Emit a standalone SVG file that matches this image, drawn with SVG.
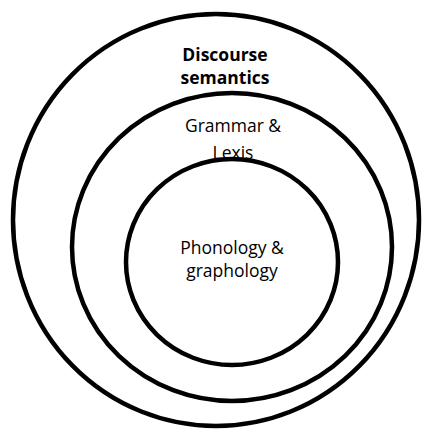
<svg xmlns="http://www.w3.org/2000/svg" width="431" height="434" viewBox="0 0 431 434">
<style>
.ring{fill:none;stroke:#000;stroke-width:4.5}
.t{font-family:"Open Sans","Noto Sans",sans-serif;font-size:17.5px;fill:#000;text-anchor:middle}
.b{font-weight:bold}
</style>
<rect width="431" height="434" fill="#fff"/>
<g id="discourse-semantics">
<ellipse class="ring" cx="216" cy="220" rx="203" ry="206"/>
<text class="t b" x="225" y="61">Discourse</text>
<text class="t b" x="225" y="84">semantics</text>
</g>
<g id="grammar-lexis">
<ellipse class="ring" cx="232" cy="247" rx="160" ry="154"/>
<text class="t" x="233" y="132">Grammar &amp;</text>
<text class="t" x="233" y="159">Lexis</text>
</g>
<g id="phonology-graphology">
<ellipse cx="232" cy="262" rx="106" ry="103" fill="#fff" stroke="#000" stroke-width="4.5"/>
<text class="t" x="232" y="254">Phonology &amp;</text>
<text class="t" x="232" y="277">graphology</text>
</g>
<g id="connectors"/>
</svg>
